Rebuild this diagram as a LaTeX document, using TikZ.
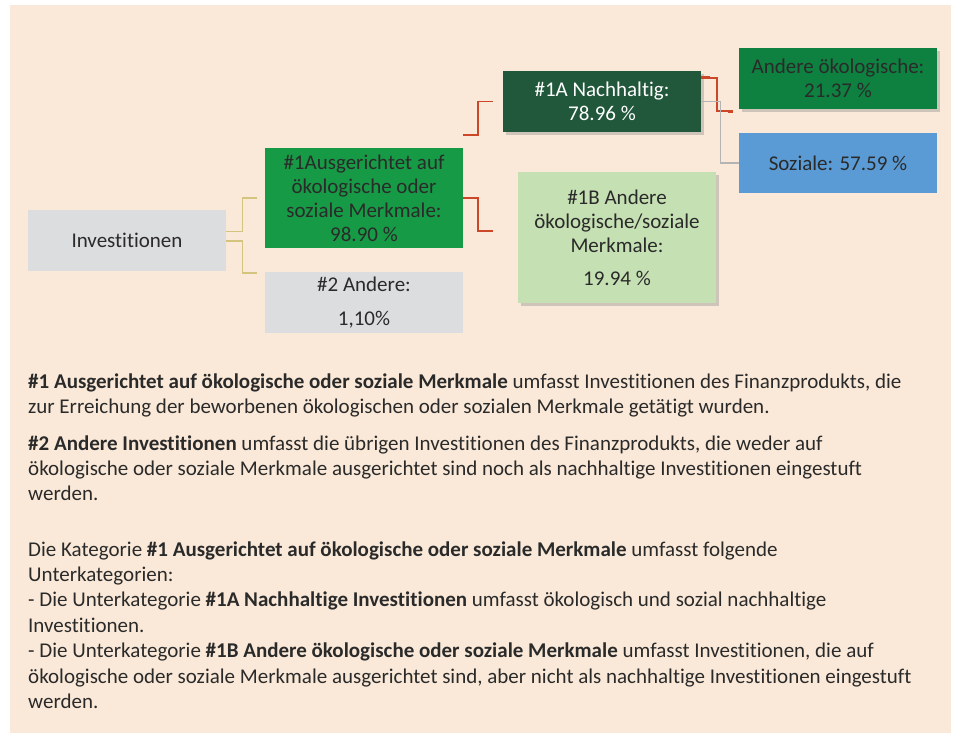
\documentclass[tikz,border=0pt]{standalone}
\usepackage{fontspec}
\setmainfont{Carlito}[Ligatures=CommonOff]
\usetikzlibrary{shadows}
\definecolor{bgc}{HTML}{FAE9D8}
\definecolor{greyc}{HTML}{DCDDDF}
\definecolor{greenA}{HTML}{179A45}
\definecolor{darkg}{HTML}{21573A}
\definecolor{greenB}{HTML}{0E8040}
\definecolor{lightg}{HTML}{C5E0B3}
\definecolor{bluec}{HTML}{5B9BD5}
\definecolor{txt}{HTML}{2A2A2A}
\definecolor{yelc}{HTML}{D5C47E}
\definecolor{redc}{HTML}{CC4628}
\definecolor{grc}{HTML}{B4B4B4}
\tikzset{
  bx/.style={rectangle, inner sep=0pt, align=center, text=txt,
    minimum width=198pt, font=\fontsize{21}{24}\selectfont},
  shd/.style={drop shadow={opacity=0.35, shadow xshift=2.5pt, shadow yshift=-3pt}},
  yc/.style={draw=yelc, line width=1.4pt},
  rc/.style={draw=redc, line width=1.5pt},
  gc/.style={draw=grc, line width=1.4pt},
  body/.style={anchor=base west, inner sep=0pt, text=txt, font=\fontsize{21}{25.4}\selectfont}
}
\begin{document}
\begin{tikzpicture}[x=1pt,y=-1pt]
\useasboundingbox (0,0) rectangle (953,733);
\fill[bgc] (10,5) rectangle (951,733);

% boxes
\node[bx, fill=greyc, minimum height=61pt] (inv) at (127,240.5) {Investitionen};
\node[bx, fill=greenA, minimum height=100pt] (a1) at (364,198)
  {\#1Ausgerichtet auf\\ökologische oder\\soziale Merkmale:\\98.90 \%};
\node[bx, fill=greyc, minimum height=61pt] (a2) at (364,302.5)
  {\#2 Andere:\\[10pt]1,10\%};
\node[bx, shd, fill=darkg, text=white, minimum height=61pt] (a1A) at (602,101.5)
  {\#1A Nachhaltig:\\78.96 \%};
\node[bx, shd, fill=lightg, minimum height=131pt] (b1) at (617,237.5)
  {\#1B Andere\\ökologische/soziale\\Merkmale:\\[9pt]19.94 \%};
\node[bx, shd, fill=greenB, minimum height=61pt] (ao) at (838,78.5)
  {Andere ökologische:\\21.37 \%};
\node[bx, fill=bluec, minimum height=60pt] (so) at (838,163)
  {Soziale: 57.59 \%};

% connectors
\draw[yc] ([yshift=9pt]inv.east) -- ++(16,0) |- ([xshift=-8pt]a1.west);
\draw[yc] ([yshift=-0.5pt]inv.east) -- ++(16,0) |- ([xshift=-8pt,yshift=-1pt]a2.north west);

\draw[rc] ([yshift=13pt]a1.north east) -- ++(15,0) |- ([xshift=-10pt]a1A.west);
\draw[rc] (a1.east) -- ++(15,0) |- ([xshift=-25pt,yshift=6.5pt]b1.west);

\coordinate (aoend) at ([xshift=-6pt,yshift=-2pt]ao.south west);
\draw[rc] ([yshift=-7pt]a1A.north east) -- ++(16,0) |- (aoend);
\draw[draw=redc, line width=3pt] ([yshift=-7pt]a1A.north east) -- ++(9,0);
\draw[draw=redc, line width=3pt] (aoend) -- ++(-5,0);

\draw[gc] (a1A.east) -- ++(19,0) |- (so.west);

% body text
\node[body] (t1) at (28,388) {\textbf{\#1 Ausgerichtet auf ökologische oder soziale Merkmale} umfasst Investitionen des Finanzprodukts, die};
\node[body] (t2) at (28,413.4) {zur Erreichung der beworbenen ökologischen oder sozialen Merkmale getätigt wurden.};
\node[body] (t3) at (28,450) {\textbf{\#2 Andere Investitionen} umfasst die übrigen Investitionen des Finanzprodukts, die weder auf};
\node[body] (t4) at (28,475.4) {ökologische oder soziale Merkmale ausgerichtet sind noch als nachhaltige Investitionen eingestuft};
\node[body] (t5) at (28,500.8) {werden.};
\node[body] (t6) at (28,556) {Die Kategorie \textbf{\#1 Ausgerichtet auf ökologische oder soziale Merkmale} umfasst folgende};
\node[body] (t7) at (28,581.4) {Unterkategorien:};
\node[body] (t8) at (28,606.8) {- Die Unterkategorie \textbf{\#1A Nachhaltige Investitionen} umfasst ökologisch und sozial nachhaltige};
\node[body] (t9) at (28,632.2) {Investitionen.};
\node[body] (t10) at (28,657.6) {- Die Unterkategorie \textbf{\#1B Andere ökologische oder soziale Merkmale} umfasst Investitionen, die auf};
\node[body] (t11) at (28,683) {ökologische oder soziale Merkmale ausgerichtet sind, aber nicht als nachhaltige Investitionen eingestuft};
\node[body] (t12) at (28,708.4) {werden.};
\end{tikzpicture}
\end{document}
